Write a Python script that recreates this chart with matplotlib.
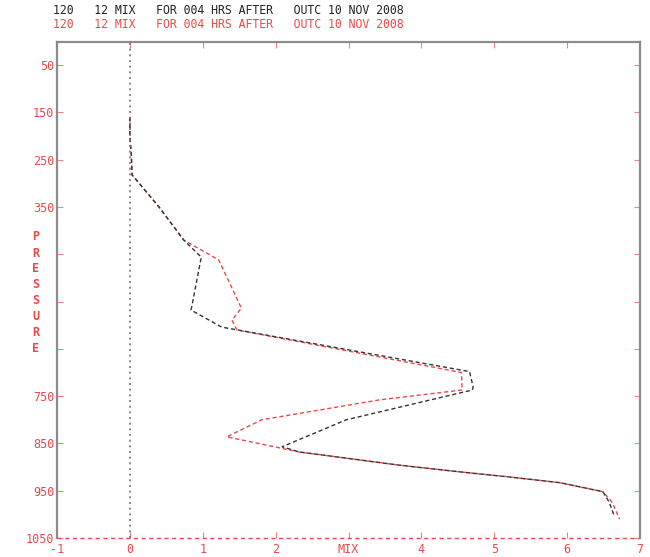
import matplotlib
matplotlib.use("Agg")
import matplotlib.pyplot as plt

# ---- data ----
header = "120   12 MIX   FOR 004 HRS AFTER   OUTC 10 NOV 2008"
xticks = [-1, 0, 1, 2, 3, 4, 5, 6, 7]
xticklabels = ["-1", "0", "1", "2", "MIX", "4", "5", "6", "7"]
yticks = [50, 150, 250, 350, 450, 550, 650, 750, 850, 950, 1050]
yticklabels = ["50", "150", "250", "350", "", "", "", "750", "850", "950", "1050"]
ylabel_letters = list("PRESSURE")

black_p = [160, 200, 240, 282, 350, 420, 456, 568, 604, 698, 730, 737, 800, 857, 868, 896, 910, 921, 933, 952, 975, 1005]
black_v = [0.0, 0.0, 0.02, 0.03, 0.40, 0.74, 0.98, 0.84, 1.26, 4.66, 4.71, 4.70, 2.97, 2.09, 2.32, 3.70, 4.52, 5.21, 5.90, 6.49, 6.58, 6.65]

red_p = [160, 200, 240, 282, 350, 420, 462, 564, 589, 610, 700, 737, 758, 800, 836, 868, 896, 910, 921, 933, 952, 975, 1010]
red_v = [0.0, 0.0, 0.02, 0.03, 0.40, 0.74, 1.22, 1.53, 1.40, 1.47, 4.55, 4.56, 3.42, 1.81, 1.33, 2.32, 3.70, 4.52, 5.21, 5.90, 6.49, 6.62, 6.72]

RED = "#e84a4a"
GRAY = "#8c8c8c"
W, H = 650, 557

fig = plt.figure(figsize=(W / 100, H / 100), dpi=100)
L, R, T, B = 57, 640, 41.5, 538
ax = fig.add_axes([L / W, 1 - B / H, (R - L) / W, (B - T) / H])

ax.plot(red_v, red_p, color=RED, lw=1.0, dashes=(3, 2))
ax.plot(black_v, black_p, color="#333333", lw=1.0, dashes=(3, 2))
ax.axvline(0, color="#777777", lw=1.2, linestyle=(0, (1.2, 2.2)))
ax.axhline(1050, color=RED, lw=1.0, dashes=(3, 2.5), clip_on=False)

ax.set_xlim(-1, 7)
ax.set_ylim(1050, 0)

for s in ["left", "top", "right"]:
    ax.spines[s].set_color(GRAY)
    ax.spines[s].set_linewidth(1.6)
ax.spines["bottom"].set_visible(False)

mono = "DejaVu Sans Mono"
ax.set_xticks(xticks)
ax.set_xticklabels(xticklabels, family=mono, fontsize=8.5, color=RED)
ax.set_yticks(yticks)
ax.set_yticklabels(yticklabels, family=mono, fontsize=8.5, color=RED)
ax.tick_params(axis="both", direction="in", length=4, width=0.8, color="#f08080", pad=2)
ax.tick_params(axis="x", pad=3.5)
ax.tick_params(right=True, top=True)
for t in ax.yaxis.get_major_ticks():
    t.tick2line.set_color(GRAY)
for t in ax.xaxis.get_major_ticks():
    t.tick2line.set_color(GRAY)

# vertical PRESSURE letters
for i, ch in enumerate(ylabel_letters):
    ypx = 237 + i * 16
    fig.text(36 / W, 1 - ypx / H, ch, family=mono, fontsize=8.5, color=RED,
             ha="center", va="center", fontweight="bold")

fig.text(53 / W, 1 - 10.5 / H, header, family=mono, fontsize=8.3, color="#222222",
         ha="left", va="center")
fig.text(53 / W, 1 - 24.5 / H, header, family=mono, fontsize=8.3, color=RED,
         ha="left", va="center")

fig.savefig("out.png", dpi=100)
